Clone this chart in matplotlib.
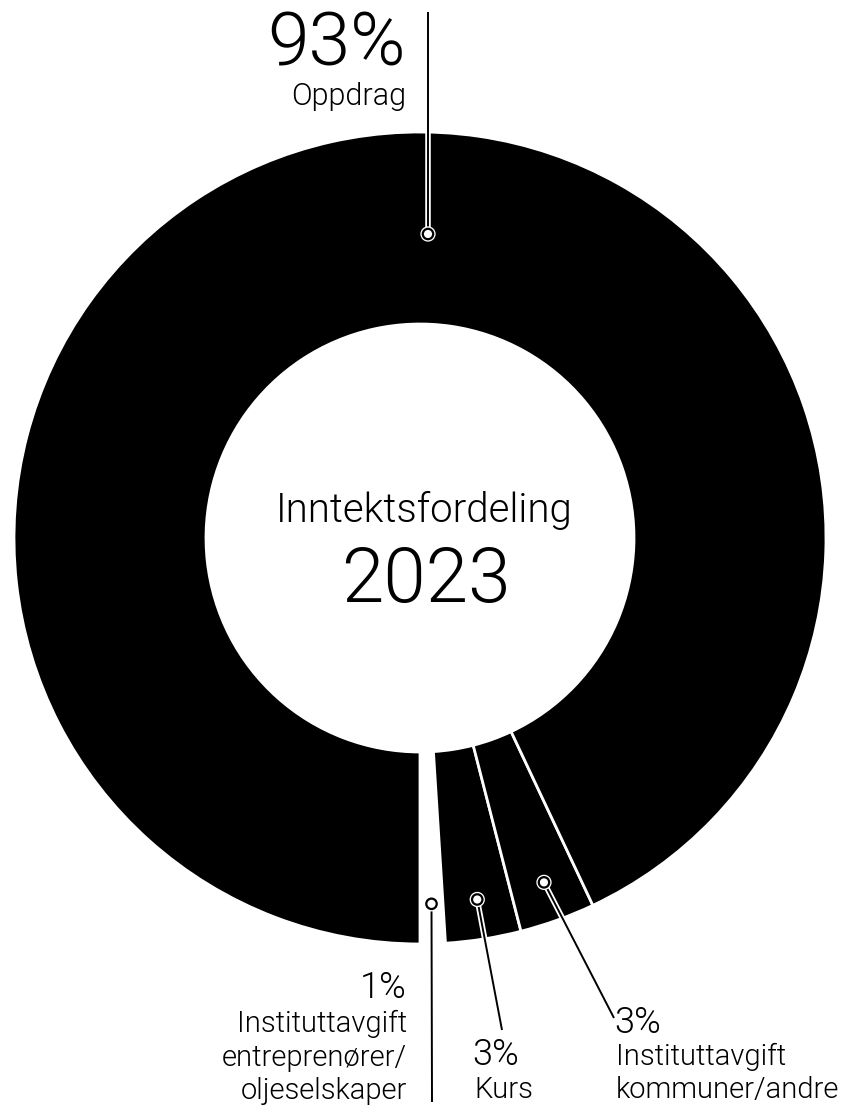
import numpy as np
import matplotlib
matplotlib.use("Agg")
from matplotlib import pyplot as plt
import matplotlib.patheffects as pe

# data
slices = ['Instituttavgift entreprenører/oljeselskaper', 'Kurs',
          'Instituttavgift kommuner/andre', 'Oppdrag']
shares = [1, 3, 3, 93]
pct_text = ['1%', '3%', '3%', '93%']
label_lines = [['Instituttavgift', 'entreprenører/', 'oljeselskaper'],
               ['Kurs'],
               ['Instituttavgift', 'kommuner/andre'],
               ['Oppdrag']]
colors = ['white', 'black', 'black', 'black']
title = 'Inntektsfordeling'
year = '2023'

W, H = 852, 1110
def Y(py):
    return H - py

plt.rcParams['font.family'] = ['Roboto', 'DejaVu Sans']
plt.rcParams['font.weight'] = 300

fig = plt.figure(figsize=(W / 100, H / 100), dpi=100)
ax = fig.add_axes([0, 0, 1, 1])

cx, cy, R, ring = 420, Y(538), 406, 192
wedges, _ = ax.pie(shares, colors=colors, startangle=-90, counterclock=True,
                   radius=R, center=(cx, cy), frame=True,
                   wedgeprops=dict(width=ring, edgecolor='white', linewidth=2))
ax.set_xlim(0, W)
ax.set_ylim(0, H)
ax.set_aspect('equal')
ax.axis('off')

outline = [pe.Stroke(linewidth=4, foreground='white'), pe.Normal()]

# marker spots: small slices at mid angle, oppdrag just under the top line
spots = []
for i, w in enumerate(wedges):
    if i < 3:
        a = np.deg2rad((w.theta1 + w.theta2) / 2)
        spots.append((cx + 366 * np.cos(a), cy + 366 * np.sin(a)))
    else:
        spots.append((428, Y(234)))

ends = [(432, Y(1102)), (502, Y(1030)), (614, Y(1018)), (428, Y(12))]

for (sx, sy), (ex, ey) in zip(spots, ends):
    ax.plot([sx, ex], [sy, ey], color='black', lw=1.4, solid_capstyle='butt',
            path_effects=outline, zorder=5)
    ax.plot(sx, sy, 'o', ms=7.5, mfc='white', mec='black', mew=1.6,
            path_effects=[pe.Stroke(linewidth=3.5, foreground='white'), pe.Normal()],
            zorder=6)

fs = 21
fp = 26
lh = 33.5
# 1% label, right aligned
ax.text(407, Y(998), pct_text[0], fontsize=fp, ha='right', va='baseline')
for k, s in enumerate(label_lines[0]):
    ax.text(407, Y(1032 + k * lh), s, fontsize=fs, ha='right', va='baseline')
# Kurs
ax.text(472, Y(1065), pct_text[1], fontsize=fp, ha='left', va='baseline')
ax.text(474, Y(1098), label_lines[1][0], fontsize=fs, ha='left', va='baseline')
# kommuner
ax.text(614, Y(1033), pct_text[2], fontsize=fp, ha='left', va='baseline')
for k, s in enumerate(label_lines[2]):
    ax.text(616, Y(1065 + k * lh), s, fontsize=fs, ha='left', va='baseline')
# Oppdrag
ax.text(406, Y(65), pct_text[3], fontsize=54, ha='right', va='baseline')
ax.text(406, Y(105), label_lines[3][0], fontsize=22, ha='right', va='baseline')

# centre
ax.text(424, Y(522), title, fontsize=29, ha='center', va='baseline')
ax.text(426, Y(602), year, fontsize=55, ha='center', va='baseline')

plt.savefig('out.png', dpi=100)
